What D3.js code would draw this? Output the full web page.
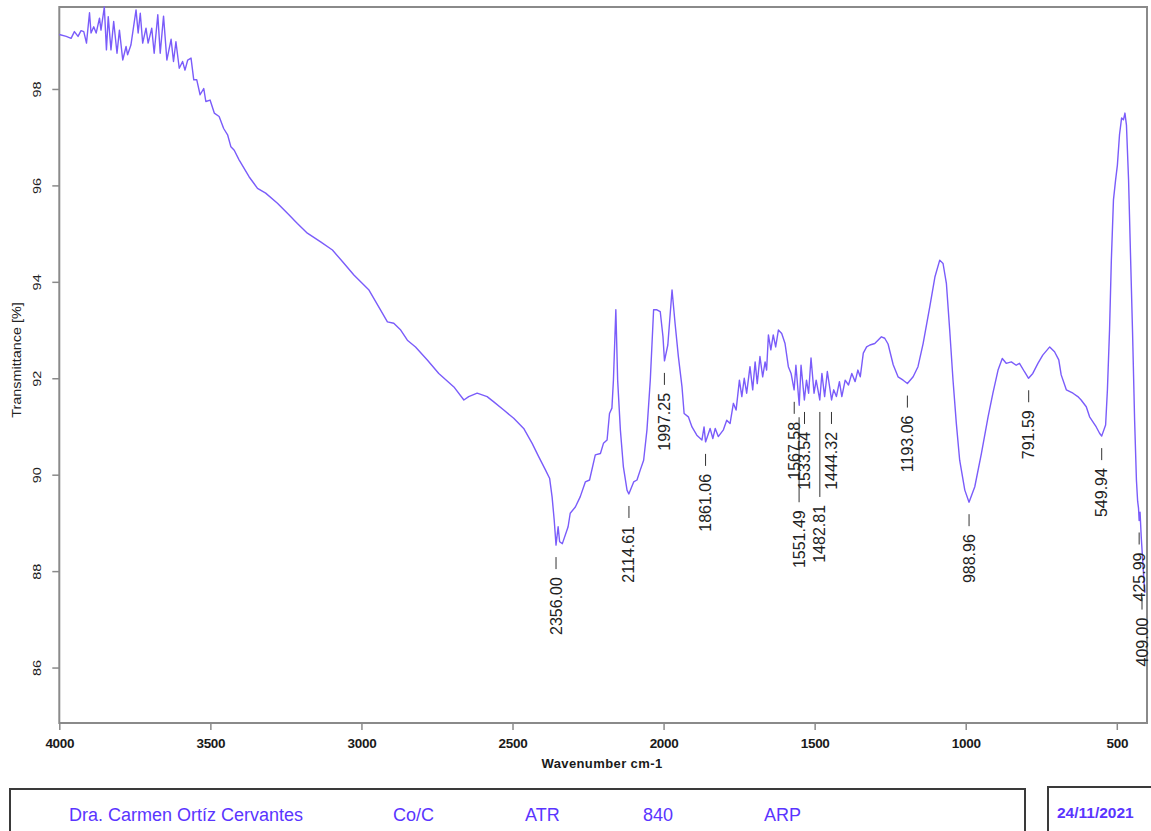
<!DOCTYPE html>
<html>
<head>
<meta charset="utf-8">
<title>Transmittance spectrum</title>
<script src="https://d3js.org/d3.v7.min.js"></script>
<style>
    body { margin: 0; background: #fff; }
    svg { display: block; font-family: "Liberation Sans", Arial, sans-serif; }
</style>
</head>
<body>
<div id="chart"></div>
<script>
// spectrum (wavenumber cm-1, transmittance %)
const wavenumber = [
    4000, 3977, 3961, 3950, 3938, 3928, 3919, 3910, 3900, 3895, 3886, 3878, 3867, 3862, 3851, 3844,
    3838, 3829, 3820, 3809, 3801, 3790, 3779, 3774, 3763, 3746, 3739, 3732, 3724, 3713, 3706, 3694,
    3686, 3674, 3666, 3655, 3644, 3630, 3622, 3614, 3603, 3592, 3584, 3575, 3564, 3555, 3545, 3534,
    3522, 3515, 3501, 3487, 3471, 3456, 3443, 3432, 3421, 3405, 3372, 3344, 3317, 3278, 3245, 3212,
    3179, 3135, 3096, 3063, 3025, 2975, 2937, 2914, 2893, 2870, 2848, 2821, 2782, 2744, 2694, 2661,
    2645, 2617, 2584, 2562, 2529, 2496, 2463, 2435, 2413, 2391, 2377, 2369, 2362, 2356, 2349, 2344,
    2335, 2316, 2309, 2292, 2276, 2259, 2245, 2226, 2209, 2199, 2187, 2179, 2171, 2166, 2158, 2152,
    2143, 2133, 2121, 2115, 2099, 2088, 2077, 2066, 2055, 2044, 2033, 2022, 2011, 2002, 1997, 1986,
    1972, 1962, 1951, 1939, 1932, 1918, 1906, 1890, 1873, 1866, 1861, 1846, 1837, 1829, 1819, 1802,
    1791, 1780, 1769, 1760, 1749, 1741, 1733, 1725, 1714, 1705, 1697, 1690, 1681, 1672, 1664, 1659,
    1653, 1645, 1637, 1629, 1620, 1609, 1598, 1587, 1578, 1568, 1562, 1551, 1545, 1534, 1527, 1520,
    1512, 1502, 1495, 1483, 1476, 1467, 1458, 1444, 1437, 1428, 1418, 1410, 1399, 1388, 1377, 1366,
    1357, 1349, 1339, 1328, 1317, 1301, 1279, 1268, 1257, 1240, 1224, 1207, 1193, 1174, 1158, 1141,
    1119, 1102, 1086, 1075, 1064, 1053, 1042, 1031, 1020, 1003, 989, 970, 948, 926, 910, 893,
    879, 866, 849, 833, 822, 805, 792, 778, 761, 745, 722, 706, 692, 684, 667, 645,
    629, 618, 601, 590, 568, 557, 550, 537, 531, 524, 518, 511, 504, 498, 491, 484,
    478, 473, 468, 461, 455, 448, 441, 435, 431, 428, 426, 423, 419, 414, 409, 407
];
const transmittance = [
    99.13, 99.09, 99.05, 99.19, 99.09, 99.21, 99.19, 98.95, 99.58, 99.16, 99.29, 99.16, 99.47, 99.22, 99.70, 98.81,
    99.50, 98.81, 99.40, 98.74, 99.22, 98.60, 98.88, 98.71, 98.91, 99.64, 99.16, 99.57, 98.95, 99.26, 98.95, 99.26,
    98.74, 99.54, 98.74, 99.51, 98.60, 99.03, 98.57, 98.98, 98.43, 98.57, 98.39, 98.60, 98.64, 98.19, 98.19, 97.88,
    98.01, 97.74, 97.77, 97.50, 97.43, 97.18, 97.05, 96.80, 96.73, 96.53, 96.18, 95.94, 95.84, 95.63, 95.42, 95.21,
    95.01, 94.83, 94.66, 94.42, 94.14, 93.83, 93.42, 93.17, 93.14, 93.00, 92.79, 92.65, 92.38, 92.10, 91.82, 91.55,
    91.62, 91.69, 91.62, 91.51, 91.34, 91.17, 90.96, 90.65, 90.37, 90.10, 89.92, 89.54, 89.06, 88.54, 88.92, 88.61,
    88.57, 88.92, 89.20, 89.33, 89.54, 89.85, 89.89, 90.41, 90.44, 90.65, 90.72, 91.27, 91.38, 91.96, 93.42, 91.96,
    90.93, 90.16, 89.68, 89.60, 89.85, 89.89, 90.10, 90.30, 90.93, 91.96, 93.42, 93.42, 93.38, 92.86, 92.36, 92.69,
    93.83, 93.14, 92.45, 91.82, 91.27, 91.20, 90.99, 90.82, 90.72, 90.99, 90.68, 90.96, 90.75, 90.96, 90.79, 90.93,
    91.13, 91.06, 91.48, 91.34, 91.96, 91.62, 92.00, 91.69, 92.24, 91.76, 92.34, 91.89, 92.45, 92.03, 92.34, 92.17,
    92.90, 92.59, 92.90, 92.65, 93.00, 92.93, 92.72, 92.24, 92.10, 91.76, 92.27, 91.44, 92.27, 91.55, 91.96, 91.69,
    92.42, 91.69, 91.96, 91.55, 92.10, 91.62, 92.14, 91.55, 91.76, 91.62, 91.93, 91.62, 91.96, 91.86, 92.10, 91.93,
    92.17, 92.03, 92.52, 92.65, 92.69, 92.72, 92.86, 92.83, 92.71, 92.28, 92.03, 91.96, 91.89, 92.03, 92.24, 92.72,
    93.48, 94.10, 94.45, 94.38, 93.97, 93.00, 91.96, 91.06, 90.30, 89.68, 89.43, 89.75, 90.44, 91.20, 91.69, 92.17,
    92.41, 92.31, 92.34, 92.27, 92.31, 92.13, 92.00, 92.10, 92.31, 92.48, 92.65, 92.55, 92.38, 92.07, 91.76, 91.69,
    91.62, 91.55, 91.41, 91.20, 90.99, 90.86, 90.80, 91.03, 91.76, 93.00, 94.45, 95.70, 96.11, 96.42, 97.05, 97.40,
    97.36, 97.50, 97.25, 96.11, 94.66, 93.00, 91.13, 89.89, 89.45, 89.30, 89.05, 89.22, 88.70, 88.20, 87.70, 87.55
];

// picked peaks
const peakWavenumbers = [2356.00, 2114.61, 1997.25, 1861.06, 1567.58, 1551.49, 1533.54, 1482.81, 1444.32,
    1193.06, 988.96, 791.59, 549.94, 425.99, 409.00];
const peakRow = [0, 0, 0, 0, 0, 1, 0, 1, 0, 0, 0, 0, 0, 0, 0];

const xTicks = [4000, 3500, 3000, 2500, 2000, 1500, 1000, 500];
const yTicks = [86, 88, 90, 92, 94, 96, 98];

const footerItems = ["Dra. Carmen Ortíz Cervantes", "Co/C", "ATR", "840", "ARP"];
const dateText = "24/11/2021";

const width = 1151;
const height = 831;
const plot = { left: 59.3, right: 1147, top: 7, bottom: 723 };

const svg = d3.select("#chart")
    .append("svg")
    .attr("width", width)
    .attr("height", height);

const x = d3.scaleLinear()
    .domain([4000, 400])
    .range([plot.left, plot.right]);

const y = d3.scaleLinear()
    .domain([84.85, 99.7])
    .range([plot.bottom, plot.top]);

// axes
const xAxis = svg.append("g")
    .attr("transform", `translate(0,${plot.bottom})`)
    .call(d3.axisBottom(x).tickValues(xTicks).tickSize(7).tickPadding(8).tickFormat(d3.format("d")));
xAxis.select(".domain").remove();
xAxis.selectAll("line").attr("stroke", "#8a8a8a").attr("stroke-width", 1.5);
xAxis.selectAll("text")
    .attr("fill", "#1a1a1a")
    .style("font-size", "13.5px")
    .style("font-weight", "bold")
    .style("letter-spacing", "-0.3px");

const yAxis = svg.append("g")
    .attr("transform", `translate(${plot.left},0)`)
    .call(d3.axisLeft(y).tickValues(yTicks).tickSize(7));
yAxis.select(".domain").remove();
yAxis.selectAll("line").attr("stroke", "#8a8a8a").attr("stroke-width", 1.5);
yAxis.selectAll("text")
    .attr("x", null)
    .attr("dy", null)
    .attr("fill", "#222")
    .attr("text-anchor", "middle")
    .attr("dominant-baseline", "central")
    .attr("transform", "translate(-22,0) rotate(-90) scale(1.45,1)")
    .style("font-size", "10px");

// plot frame
svg.append("rect")
    .attr("x", plot.left)
    .attr("y", plot.top)
    .attr("width", plot.right - plot.left)
    .attr("height", plot.bottom - plot.top)
    .attr("fill", "none")
    .attr("stroke", "#8a8a8a")
    .attr("stroke-width", 2);

// axis titles
svg.append("text")
    .attr("transform", "translate(17,360) rotate(-90) scale(1.2,1)")
    .attr("text-anchor", "middle")
    .attr("dominant-baseline", "central")
    .attr("fill", "#222")
    .style("font-size", "12px")
    .text("Transmittance [%]");

svg.append("text")
    .attr("x", 602)
    .attr("y", 763)
    .attr("text-anchor", "middle")
    .attr("dominant-baseline", "central")
    .attr("fill", "#1a1a1a")
    .style("font-size", "13px")
    .style("font-weight", "bold")
    .style("letter-spacing", "0.4px")
    .text("Wavenumber cm-1");

// spectrum
const points = wavenumber.map((w, i) => [w, transmittance[i]]);
const line = d3.line()
    .x(d => x(d[0]))
    .y(d => y(d[1]));

svg.append("path")
    .datum(points)
    .attr("fill", "none")
    .attr("stroke", "#7a5cfa")
    .attr("stroke-width", 1.4)
    .attr("stroke-linejoin", "round")
    .attr("d", line);

// peak labels
function valueAt(w) {
    let best = 0;
    wavenumber.forEach((v, i) => {
        if (Math.abs(v - w) < Math.abs(wavenumber[best] - w)) best = i;
    });
    return transmittance[best];
}

const peaks = svg.append("g");
peakWavenumbers.forEach((w, i) => {
    const px = Math.min(x(w), width - 9);
    const top = y(valueAt(w)) + 12;
    const lineLen = peakRow[i] ? 85 : 12;
    peaks.append("line")
        .attr("x1", px).attr("x2", px)
        .attr("y1", top).attr("y2", top + lineLen)
        .attr("stroke", "#333")
        .attr("stroke-width", 1);
    peaks.append("text")
        .attr("transform", `translate(${px},${top + lineLen + 8}) rotate(-90)`)
        .attr("text-anchor", "end")
        .attr("dominant-baseline", "central")
        .attr("fill", "#222")
        .style("font-size", "16px")
        .text(w.toFixed(2));
});

// footer boxes
svg.append("rect")
    .attr("x", 10).attr("y", 789)
    .attr("width", 1015).attr("height", 60)
    .attr("fill", "none")
    .attr("stroke", "#3a3a3a")
    .attr("stroke-width", 2);

svg.append("rect")
    .attr("x", 1048).attr("y", 787)
    .attr("width", 120).attr("height", 60)
    .attr("fill", "none")
    .attr("stroke", "#3a3a3a")
    .attr("stroke-width", 2);

const footerX = [69, 393, 525, 643, 764];
svg.append("g")
    .selectAll("text")
    .data(footerItems)
    .join("text")
    .attr("x", (d, i) => footerX[i])
    .attr("y", 821)
    .attr("fill", "#5a35ff")
    .style("font-size", "18px")
    .text(d => d);

svg.append("text")
    .attr("x", 1057)
    .attr("y", 818)
    .attr("fill", "#5a35ff")
    .style("font-size", "15.5px")
    .style("font-weight", "bold")
    .text(dateText);
</script>
</body>
</html>
